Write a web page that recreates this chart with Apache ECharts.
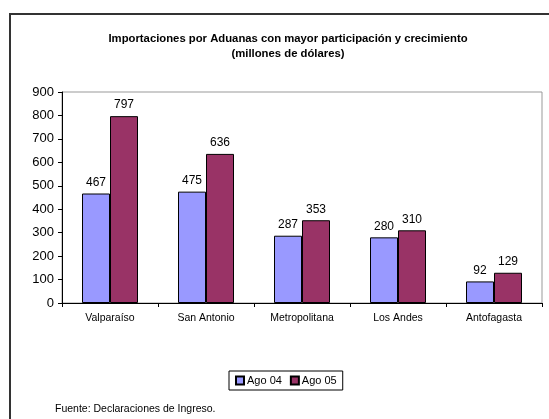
<!DOCTYPE html>
<html>
<head>
<meta charset="utf-8">
<script src="https://cdn.jsdelivr.net/npm/echarts@6/dist/echarts.min.js"></script>
<style>
  html, body { margin: 0; padding: 0; background: #fff; }
  #chart { width: 549px; height: 419px; }
</style>
</head>
<body>
<div id="chart"></div>
<script>
// datos
const aduanas = ['Valparaíso', 'San Antonio', 'Metropolitana', 'Los Andes', 'Antofagasta'];
const ago04 = [467, 475, 287, 280, 92];
const ago05 = [797, 636, 353, 310, 129];
const seriesNames = ['Ago 04', 'Ago 05'];

const chart = echarts.init(document.getElementById('chart'));

const labelStyle = {
  show: true,
  position: 'top',
  distance: 5,
  fontFamily: 'Liberation Sans, Arial',
  fontSize: 12,
  color: '#000'
};

const option = {
  animation: false,
  textStyle: { fontFamily: 'Liberation Sans, Arial' },
  title: {
    text: 'Importaciones por Aduanas con mayor participación y crecimiento\n(millones de dólares)',
    left: 283,
    textAlign: 'center',
    top: 26,
    textStyle: {
      fontSize: 11.3,
      fontWeight: 'bold',
      lineHeight: 15,
      color: '#000',
      fontFamily: 'Liberation Sans, Arial'
    }
  },
  graphic: [
    {
      type: 'rect',
      shape: { x: 10, y: 14, width: 600, height: 450 },
      style: { fill: 'none', stroke: '#333', lineWidth: 2 },
      silent: true
    },
    {
      type: 'text',
      left: 55,
      top: 404,
      style: {
        text: 'Fuente: Declaraciones de Ingreso.',
        fontSize: 10.5,
        fill: '#000',
        fontFamily: 'Liberation Sans, Arial'
      }
    }
  ],
  legend: {
    data: seriesNames,
    left: 229,
    top: 371,
    width: 112,
    height: 20,
    padding: [4, 6],
    itemWidth: 8,
    itemHeight: 8,
    itemGap: 8,
    borderColor: '#000',
    borderWidth: 1,
    textStyle: { fontSize: 11, color: '#000', padding: [0, 0, 0, -2] },
    icon: 'rect'
  },
  grid: {
    left: 62,
    top: 92,
    width: 480,
    height: 211,
    show: true,
    borderColor: '#999',
    borderWidth: 1,
    containLabel: false
  },
  xAxis: {
    type: 'category',
    data: aduanas,
    axisLine: { lineStyle: { color: '#000', width: 1 } },
    axisTick: { show: true, alignWithLabel: false, length: 4, inside: false, lineStyle: { color: '#000' } },
    axisLabel: { fontSize: 10.5, color: '#000', margin: 10 },
    splitLine: { show: false }
  },
  yAxis: {
    type: 'value',
    min: 0,
    max: 900,
    interval: 100,
    axisLine: { show: true, lineStyle: { color: '#000', width: 1 } },
    axisTick: { show: true, length: 4, lineStyle: { color: '#000' } },
    axisLabel: { fontSize: 13, color: '#000', margin: 8 },
    splitLine: { show: false }
  },
  series: [
    {
      name: seriesNames[0],
      type: 'bar',
      data: ago04,
      barWidth: 28,
      barGap: '0%',
      itemStyle: { color: '#9999FF', borderColor: '#000', borderWidth: 1 },
      label: labelStyle
    },
    {
      name: seriesNames[1],
      type: 'bar',
      data: ago05,
      barWidth: 28,
      barGap: '0%',
      itemStyle: { color: '#993366', borderColor: '#000', borderWidth: 1 },
      label: labelStyle
    }
  ]
};

chart.setOption(option);
</script>
</body>
</html>
